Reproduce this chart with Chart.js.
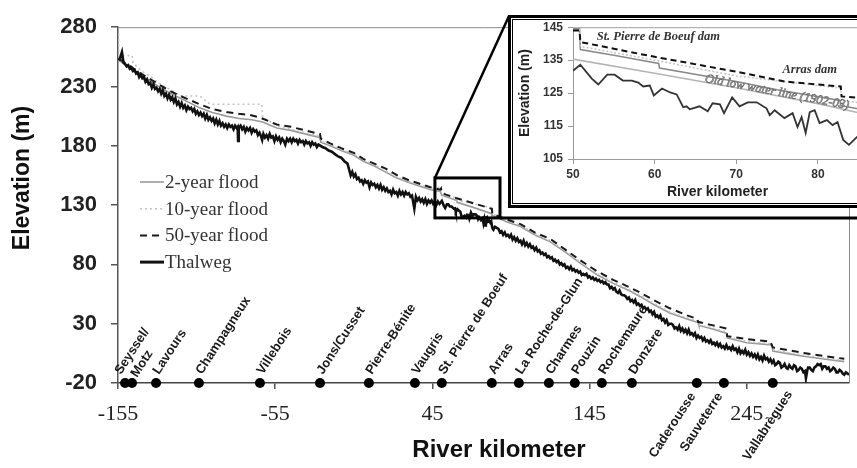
<!DOCTYPE html>
<html><head><meta charset="utf-8">
<script src="https://cdn.jsdelivr.net/npm/chart.js@4.4.1/dist/chart.umd.min.js"></script>
<style>
html,body{margin:0;padding:0;background:#fff;}
body{width:857px;height:468px;overflow:hidden;position:relative;}
#mainWrap{position:absolute;left:0;top:0;width:857px;height:468px;}
#insetWrap{position:absolute;left:508px;top:15px;width:362px;height:193px;}
canvas{display:block;}
</style></head><body>
<div id="mainWrap"><canvas id="main" width="857" height="468"></canvas></div>
<div id="insetWrap"><canvas id="inset" width="362" height="193"></canvas></div>
<script>
// ---------------- DATA: main profile ----------------
const mainXTicks = [-155, -55, 45, 145, 245];
const mainYTicks = [-20, 30, 80, 130, 180, 230, 280];
const xTitle = 'River kilometer';
const yTitle = 'Elevation (m)';

// Thalweg: [river km, elevation m]
const thalweg = [
[-154.5,252],[-153.7,254],[-152.5,259],[-151.5,250],[-150.5,249],[-149.5,247],[-148.5,248],[-147.5,245],[-146.5,246],[-145.5,243],[-144.5,244],[-143.5,241],[-142.5,242],[-141.5,238],[-140.5,240],[-139.5,237],[-138.5,238],[-137.5,234],[-136.5,236],[-135.5,232],[-134.5,233],[-133.5,229],[-132.5,232],[-131.5,228],[-130.5,229],[-129.5,226],[-128.5,228],[-127.5,224],[-126.5,227],[-125.5,222],[-124.5,224],[-123.5,220],[-122.5,223],[-121.5,219],[-120.5,221],[-119.5,217],[-118.5,220],[-117.5,215],[-116.5,217],[-115.5,213],[-114.5,216],[-113.5,212],[-112.5,214],[-111.5,210],[-110.5,213],[-109.5,211],[-108.5,212],[-107.5,209],[-106.5,211],[-105.5,207],[-104.5,209],[-103.5,206],[-102.5,208],[-101.5,205],[-100.5,207],[-99.5,203],[-98.5,206],[-97.5,202],[-96.5,204],[-95.5,201],[-94.5,203],[-93.5,199],[-92.5,202],[-91.5,198],[-90.5,201],[-89.5,197],[-88.5,199],[-87.5,196],[-86.5,198],[-85.5,195],[-84.5,198],[-83.5,196],[-82.5,197],[-81.5,194],[-80.5,197],[-79.5,195],[-78.9,196],[-78.6,184],[-78.2,195],[-77,197],[-76,194],[-75,196],[-74,192],[-73,195],[-72,193],[-71,195],[-70,191],[-69,194],[-68,192],[-67,193],[-66,189],[-65,191],[-64,188],[-63.3,185],[-62.5,190],[-61.5,187],[-60.5,189],[-59.5,186],[-58.5,190],[-57.5,187],[-56.5,188],[-55.5,184],[-54.5,188],[-53.5,185],[-52.5,187],[-51.5,183],[-50.5,186],[-49.5,184],[-48.6,181],[-47.5,186],[-46.5,184],[-45.5,186],[-44.5,183],[-43.5,186],[-42.5,184],[-41.5,185],[-40.5,182],[-39.5,185],[-38.5,183],[-37.5,184],[-36.5,181],[-35.5,184],[-34.5,182],[-33.5,183],[-32.5,180],[-31.5,183],[-30.5,181],[-29.5,182],[-28.5,179],[-27.5,181],
[-25,179],[-23,178],[-21,176],[-19,175],[-17,173],[-15,171],[-13,170],[-11,167],[-9,165],[-8,160],[-7,155],[-6,158],[-5,154],[-4,156],[-3,152],[-2,153],[-1,150],[0,151],[1,148],[2,151],[3,149],[4,150],[5,145],[6,149],[7,147],[8,148],[9,145],[10,147],[11,144],[12,147],[13,143],[14,145],[15,142],[16,144],[17,141],[18,142],[19,139],[20,143],[21,140],[22,141],[23,138],[24,142],[25,139],[26,141],[27,138],[28,141],[29,139],[30,140],[31,137],[32,138],[33.5,127],[34.5,137],[35.5,134],[36.5,136],[37.5,133],[38.5,135],[39.5,132],[40.5,135],[41.5,131],[42.5,134],[43.5,132],[44.5,134],[45.5,131],[46.5,133],[47.5,130],[48.5,133],[49.5,131],
[50,131.8],[51,133.6],[52.3,129.4],[53.1,127.6],[54.2,130.6],[55.1,130.6],[56.1,128.8],[57.2,128.8],[58.6,127],[59.4,127.3],[59.9,124.3],[60.9,126.4],[61.9,125.2],[62.7,124.6],[63.5,120.7],[64.3,120.1],[65.5,121],[66.5,119.5],[67.1,121.9],[68,121.6],[68.5,118.9],[69.5,123.7],[70.4,121],[71.4,122.2],[72.5,122.2],[73.7,120.4],[74.1,118.3],[74.7,119.8],[75.9,117.4],[76.9,118.9],[77.5,114.7],[78,117.7],[78.5,112.9],[79,119.2],[79.6,119.8],[80.2,115.9],[81.1,116.8],[81.8,115.3],[82.4,116.2],[83.1,110.8],[83.8,109.3],[84.8,111.7],
[87,110],[88,107],[89,108],[90,105],[91,107],[92,104],[93,105],[94,103],[95,105],[96,101],[97,103],[98,100],[99,102],[100,99],[101,100],[102,97],[103,100],[104,96],[105,98],[106,95],[107,97],[108,94],[109,95],[110,92],[111,94],[112,91],[113,92],[114,89],[115,90],[116,88],[117,89],[118,86],[119,87],[120,85],[121,86],[122,83],[123,84],[124,82],[125,83],[126,80],[127,81],[128,79],[129,80],[130,77],[131,78],[132,76],[133,78],[134,75],[135,76],[136,74],[137,75],[138,73],[139,74],[140,71],[141,72],[142,71],[143,72],[144,69],[145,70],[146,68],[147,69],[148,67],[149,68],[150,66],[151,67],[152,65],[153,66],[154,64],[155,65],[156,63],[157,63],[158,60],[159,61],[160,59],[161,60],[162,57],[163,56],[164,58],[165,55],[166,54],[167,54],[168,53],[169,51],[170,52],[171,49],[172,50],[173,48],[174,50],[175,46],[176,47],[177,45],[178,46],[179,43],[180,44],[181,42],[182,43],[183,40],[184,41],[185,38],[186,40],[187,36],[188,37],[189,35],[190,37],[191,33],[192,34],[193,31],[194,33],[195,29],[196,30],[197,30],[198,29],[199,26],[200,27],[201,25],[202,28],[203,24],[204,26],[205,23],[206,25],[207,22],[208,25],[209,21],[210,22],[211,20],[212,22],[213,18],[214,20],[215,18],[216,19],[217,16],[218,18],[219,15],[220,16],[221,14],[222,16],[223,13],[224,14],[225,12],[226,14],[227,11],[228,13],[229,10],[230,11],[231,9],[232,12],[233,9],[234,10],[235,8],[236,11],[237,8],[238,9],[239,6],[240,9],[241,5],[242,7],[243,5],[244,8],[245,4],[246,6],[247,3],[248,5],[249,2],[250,4],[251,1],[252,4],[253,0],[254,2],[255,-1],[256,3],[257,0],[258,1],[259,-2],[260,0],[261,-3],[262,-1],[263,-5],[264,-4],[265,-2],[266,-3],[267,-7],[268,-6],[269,-4],[270,-7],[271,-8],[272,-5],[273,-7],[274,-8],[275,-5],[276,-6],[277,-10],[278,-9],[279,-7],[280,-8],[281,-11],[282,-10],[282.6,-16],[283.5,-9],[284,-7],[285,-7],[286,-9],[287,-10],[288,-7],[289,-6],[290,-4],[291,-5],[292,-4],[293,-8],[294,-6],[295,-6],[296,-8],[297,-7],[298,-10],[299,-9],[300,-7],[301,-8],[302,-11],[303,-11],[304,-9],[305,-10],[306,-12],[307,-13],[308,-11],[309,-12],[310,-13]
];

const flood2Km   = [-154.5,-150,-145,-140,-135,-128,-120,-112,-103,-95,-86,-78,-70,-63,-54,-45,-33,-26.5,-26,-20,-13,-5,1,8,15,22,30,37,44,50,50.9,60.6,60.7,70,82.7,82.9,85,92,101,110,120,130,139,150,160,170,177,186,196,207,214,214.5,222,232,232.5,245,261,261.5,270,281,295,307];
const flood2Elev = [252,248,243,239,235,229,223,218,212,208,205,203,202,200,195,193,189,187,183,180,176,172,167,163,158,153,149,146,143,141.5,138.4,133.9,132.3,128.5,122.8,121.3,120.4,116,112,105,99,90,81,71,64,58,53,46,39,34,31,28.5,26,22,18,14,12,7,5,2.5,0,-2];

const flood10Km   = [-154.6,-154.5,-146,-145.5,-140,-135,-128,-120,-115,-103,-96.4,-63.5,-63,-54,-45,-33,-26.5,-26,-20,-13,-5,1,8,15,22,30,37,44,50,50.9,60.6,60.7,82.9,83,85,92,101,110,120,130,139,150,160,170,177,186,196,207,214,214.5,222,232,232.5,245,261,261.5,270,281,295,307];
const flood10Elev = [274,256,256,250,243,239,232,226,222,222,215,215,204,197,194,190,188,184,181,177,173,168,164,159,154,150,147,144,145,141,135.5,134,127.8,122.5,121.5,117,113,106,100,91,82,72,65,59,54,47,40,35,32,29,27,23,19,15,13,8,6,3.5,1,-1];

const flood50Km   = [-154,-151.8,-147,-143,-138,-133,-128,-123,-117,-110,-103,-95,-86,-78,-71,-65,-54,-45,-33,-26.5,-26,-20,-13,-5,1,8,15,22.7,30,37,43.7,50,50.5,51,60,70,80,82.9,83.1,92,101,110,120,130,139,150,160,170,177.5,186,196,207,213.5,214,222,232,232.5,245,260,261.5,270,281,295,307];
const flood50Elev = [253,251,247,243,239,235,231,227,223,219,215,211,208.5,207,206,204,198,196,192,190,186,182,178,174,169,165,161,155,151,148,145,143,144,140,136,132,128,126.7,122.5,118,114,107,101.5,92,83.5,74,67,61,56,49.7,43,37,34,31.6,29,26,19.5,17,15,10,8,5.3,2.5,0.4];

const townNames = ['Seyssel/','Motz','Lavours','Champagneux','Villebois','Jons/Cusset','Pierre-Bénite','Vaugris','St. Pierre de Boeuf','Arras','La Roche-de-Glun','Charmes','Pouzin','Rochemaure','Donzère','Caderousse','Sauveterre','Vallabrègues'];
const townKm = [-150.5,-146.1,-130.8,-103.5,-64.7,-26.5,4.6,33.9,51,82.8,100,119.1,135.6,152.8,171.9,213.2,230.4,261.5];

const zoomBoxKm = [46.6, 88];
const zoomBoxElev = [119.2, 152.9];

// ---------------- DATA: inset ----------------
const insetXTicks = [50, 60, 70, 80];
const insetYTicks = [105, 115, 125, 135, 145];
const insetThalwegKm = [50,50.9,52.3,53.1,54.2,55.1,56.1,57.2,58,58.6,59.4,59.9,60.9,61.9,62.7,63.5,63.9,64.3,65.5,66.5,67.1,68,68.5,69.5,70.4,71.4,72.5,73.7,74.1,74.7,75.9,76.9,77.5,78,78.5,79,79.6,80.2,81.1,81.8,82.4,83.1,83.8,84.8,85.4];
const insetThalwegElev = [131.8,133.6,129.4,127.6,130.6,130.6,128.8,128.8,128.2,127,127.3,124.3,126.4,125.2,124.6,120.7,121,120.1,121,119.5,121.9,121.6,118.9,123.7,121,122.2,122.2,120.4,118.3,119.8,117.4,118.9,114.7,117.7,112.9,119.2,119.8,115.9,116.8,115.3,116.2,110.8,109.3,111.7,113];
const oldLowKm = [50, 60, 70, 80, 85.4];
const oldLowElev = [135.3, 131, 126.6, 121.8, 118.8];
const inset2Km = [50,50.8,50.9,55,60.5,60.6,70,75,82.7,82.8,85.4];
const inset2Elev = [144.5,144.5,138.2,136.5,134,132.6,128.5,126,122.8,121.2,120];
const inset10Km = [50,50.8,50.9,60,70,82.8,82.9,85.4];
const inset10Elev = [145,145,139.2,135,130.2,126.5,122.8,122];
const inset50Km = [50,50.8,50.9,60,70,76,82.8,82.9,85.4];
const inset50Elev = [144,144,140.5,136,131.5,128.5,127,124,123.5];
const insetNotes = ['St. Pierre de Boeuf dam', 'Arras dam', 'Old low water line (1902-03)'];

// ---------------- helpers ----------------
const pts = (xs, ys) => xs.map((x, i) => ({x, y: ys[i]}));
const SANS = "'Liberation Sans', Arial, sans-serif";
const SERIF = "'Liberation Serif', 'Times New Roman', serif";
const INSET_LEFT = 508, INSET_TOP = 15;

const labelsBelow = new Set(['Caderousse', 'Sauveterre', 'Vallabrègues']);
const labelShift = {'Seyssel/': [-7, 0], 'Motz': [2, 3], 'Vallabrègues': [21, -2]};

const mainDecor = {
  id: 'mainDecor',
  beforeDatasetsDraw(chart) {
    const {ctx, chartArea: a} = chart;
    ctx.save();
    ctx.strokeStyle = '#8c8c8c'; ctx.lineWidth = 1;
    ctx.beginPath();
    ctx.moveTo(a.left, a.top + 0.5); ctx.lineTo(a.right + 0.5, a.top + 0.5); ctx.lineTo(a.right + 0.5, a.bottom);
    ctx.stroke();
    ctx.restore();
  },
  afterDraw(chart) {
    const {ctx} = chart;
    const xs = chart.scales.x, ys = chart.scales.y;
    ctx.save();
    // legend
    const legendOrder = [1, 2, 3, 0];
    ctx.font = '19px ' + SERIF;
    ctx.textBaseline = 'middle'; ctx.textAlign = 'left';
    legendOrder.forEach((di, k) => {
      const ds = chart.data.datasets[di];
      const y = 182 + k * 26.7;
      ctx.save();
      ctx.strokeStyle = ds.borderColor; ctx.lineWidth = ds.legendWidth || ds.borderWidth;
      ctx.setLineDash(ds.borderDash || []);
      ctx.beginPath(); ctx.moveTo(140, y); ctx.lineTo(164, y); ctx.stroke();
      ctx.restore();
      ctx.fillStyle = '#333';
      ctx.fillText(ds.label, 165, y + 1);
    });
    // town labels
    const y0 = ys.getPixelForValue(-20);
    ctx.font = 'bold 13px ' + SANS;
    ctx.fillStyle = '#1a1a1a';
    const ang = -57 * Math.PI / 180;
    townNames.forEach((name, i) => {
      const px = xs.getPixelForValue(townKm[i]);
      const sh = labelShift[name] || [0, 0];
      ctx.save();
      if (labelsBelow.has(name)) {
        ctx.translate(px - 1 + sh[0], y0 + 13 + sh[1]); ctx.textAlign = 'right';
      } else {
        ctx.translate(px + 3 + sh[0], y0 - 8 + sh[1]); ctx.textAlign = 'left';
      }
      ctx.rotate(ang);
      ctx.textBaseline = 'alphabetic';
      ctx.fillText(name, 0, 0);
      ctx.restore();
    });
    // zoom box and connectors
    const x1 = xs.getPixelForValue(zoomBoxKm[0]), x2 = xs.getPixelForValue(zoomBoxKm[1]);
    const y1 = ys.getPixelForValue(zoomBoxElev[1]), y2 = ys.getPixelForValue(zoomBoxElev[0]);
    ctx.strokeStyle = '#000'; ctx.lineWidth = 3; ctx.setLineDash([]);
    ctx.strokeRect(x1, y1, x2 - x1, y2 - y1);
    ctx.lineWidth = 2.5;
    ctx.beginPath(); ctx.moveTo(x1, y1); ctx.lineTo(INSET_LEFT + 1, INSET_TOP + 1); ctx.stroke();
    ctx.lineWidth = 3;
    ctx.beginPath(); ctx.moveTo(x2, y2); ctx.lineTo(chart.width, y2); ctx.stroke();
    // axis titles
    ctx.fillStyle = '#111';
    ctx.font = 'bold 24px ' + SANS;
    ctx.textAlign = 'center'; ctx.textBaseline = 'middle';
    ctx.fillText(xTitle, 499, 450);
    ctx.save();
    ctx.translate(23, 178); ctx.rotate(-Math.PI / 2);
    ctx.font = 'bold 23px ' + SANS;
    ctx.fillText(yTitle, 0, 0);
    ctx.restore();
    ctx.restore();
  }
};

const lineDs = (label, data, color, width, dash, order) => ({
  type: 'line', label, data, borderColor: color, borderWidth: width,
  borderDash: dash, pointRadius: 0, tension: 0, fill: false, order
});

new Chart(document.getElementById('main'), {
  type: 'line',
  data: {
    datasets: [
      Object.assign(lineDs('Thalweg', thalweg.map(p => ({x: p[0], y: p[1]})), '#111', 2.6, [], 1), {legendWidth: 3}),
      lineDs('2-year flood', pts(flood2Km, flood2Elev), '#9a9a9a', 1.6, [], 4),
      lineDs('10-year flood', pts(flood10Km, flood10Elev), '#c4c4c4', 1.6, [2, 3], 3),
      lineDs('50-year flood', pts(flood50Km, flood50Elev), '#1a1a1a', 2, [7, 5], 2),
      {type: 'scatter', label: 'Dams', data: townKm.map(k => ({x: k, y: -20})), pointRadius: 5,
       pointBackgroundColor: '#000', pointBorderColor: '#000', pointBorderWidth: 0, clip: false, order: 0}
    ]
  },
  options: {
    responsive: false, animation: false, events: [],
    layout: {padding: {left: 0, top: 18, right: 8, bottom: 0}},
    plugins: {legend: {display: false}, tooltip: {enabled: false}},
    scales: {
      x: {
        type: 'linear', min: -155, max: 310,
        afterBuildTicks: s => { s.ticks = mainXTicks.map(v => ({value: v})); },
        afterFit: s => { s.height = 85; },
        grid: {drawOnChartArea: false, drawTicks: true, tickLength: 6, color: '#555', lineWidth: 1.5},
        border: {display: true, color: '#444', width: 1.5},
        ticks: {font: {family: SERIF, size: 22}, color: '#222', padding: 12, maxRotation: 0}
      },
      y: {
        type: 'linear', min: -20, max: 280,
        afterBuildTicks: s => { s.ticks = mainYTicks.map(v => ({value: v})); },
        afterFit: s => { s.width = 118; },
        grid: {drawOnChartArea: false, drawTicks: true, tickLength: 7, color: '#555', lineWidth: 1.5},
        border: {display: true, color: '#555', width: 1.5},
        ticks: {font: {family: SANS, size: 22, weight: 'bold'}, color: '#222', padding: 14}
      }
    }
  },
  plugins: [mainDecor]
});

// ---------------- inset ----------------
const insetDecor = {
  id: 'insetDecor',
  beforeDraw(chart) {
    const {ctx, width: W, height: H} = chart;
    ctx.save(); ctx.fillStyle = '#fff'; ctx.fillRect(0, 0, W, H); ctx.restore();
  },
  beforeDatasetsDraw(chart) {
    const {ctx, chartArea: a} = chart;
    ctx.save();
    ctx.strokeStyle = '#a0a0a0'; ctx.lineWidth = 1;
    ctx.beginPath(); ctx.moveTo(a.left, a.top + 0.5); ctx.lineTo(a.right, a.top + 0.5); ctx.stroke();
    ctx.restore();
  },
  afterDraw(chart) {
    const {ctx, width: W, height: H} = chart;
    const xs = chart.scales.x, ys = chart.scales.y;
    ctx.save();
    ctx.fillStyle = '#333';
    ctx.font = 'italic bold 12.5px ' + SERIF;
    ctx.textBaseline = 'middle'; ctx.textAlign = 'left';
    ctx.fillText(insetNotes[0], xs.getPixelForValue(52.9), ys.getPixelForValue(142));
    ctx.textAlign = 'center';
    ctx.fillText(insetNotes[1], xs.getPixelForValue(79), ys.getPixelForValue(132.1));
    const ax = xs.getPixelForValue(oldLowKm[0]), ay = ys.getPixelForValue(oldLowElev[0]);
    const bx = xs.getPixelForValue(oldLowKm[oldLowKm.length - 1]), by = ys.getPixelForValue(oldLowElev[oldLowElev.length - 1]);
    const ang = Math.atan2(by - ay, bx - ax);
    ctx.save();
    ctx.translate(xs.getPixelForValue(66.1), ys.getPixelForValue(128.4));
    ctx.rotate(ang);
    ctx.font = 'italic 12.5px ' + SERIF;
    ctx.textAlign = 'left'; ctx.textBaseline = 'alphabetic';
    ctx.lineWidth = 0.6; ctx.strokeStyle = '#6a6a6a';
    ctx.fillStyle = '#b0b0b0';
    ctx.fillText(insetNotes[2], 0, 0);
    ctx.strokeText(insetNotes[2], 0, 0);
    ctx.restore();
    ctx.strokeStyle = '#000';
    ctx.lineWidth = 3; ctx.strokeRect(1.5, 1.5, W - 3, H - 3);
    ctx.lineWidth = 1; ctx.strokeRect(4.5, 4.5, W - 9, H - 9);
    ctx.restore();
  }
};

new Chart(document.getElementById('inset'), {
  type: 'line',
  data: {
    datasets: [
      lineDs('Thalweg', pts(insetThalwegKm, insetThalwegElev), '#333', 1.8, [], 1),
      lineDs('Old low water line', pts(oldLowKm, oldLowElev), '#b4b4b4', 1.6, [], 5),
      lineDs('2-year flood', pts(inset2Km, inset2Elev), '#8a8a8a', 1.6, [], 4),
      lineDs('10-year flood', pts(inset10Km, inset10Elev), '#c4c4c4', 1.5, [2, 2], 3),
      lineDs('50-year flood', pts(inset50Km, inset50Elev), '#111', 2, [6, 4], 2)
    ]
  },
  options: {
    responsive: false, animation: false, events: [],
    layout: {padding: {left: 0, top: 11, right: 8, bottom: 0}},
    plugins: {legend: {display: false}, tooltip: {enabled: false}},
    scales: {
      x: {
        type: 'linear', min: 50, max: 85.4,
        afterBuildTicks: s => { s.ticks = insetXTicks.map(v => ({value: v})); },
        afterFit: s => { s.height = 49; },
        grid: {drawOnChartArea: false, drawTicks: true, tickLength: 5, color: '#999'},
        border: {display: true, color: '#999', width: 1},
        ticks: {font: {family: SANS, size: 12, weight: 'bold'}, color: '#333', padding: 3, maxRotation: 0},
        title: {display: true, text: xTitle, font: {family: SANS, size: 14, weight: 'bold'}, color: '#222', padding: {top: 0, bottom: 7}}
      },
      y: {
        type: 'linear', min: 105, max: 145,
        afterBuildTicks: s => { s.ticks = insetYTicks.map(v => ({value: v})); },
        afterFit: s => { s.width = 65; },
        grid: {drawOnChartArea: false, drawTicks: true, tickLength: 5, color: '#999'},
        border: {display: true, color: '#999', width: 1},
        ticks: {font: {family: SANS, size: 12, weight: 'bold'}, color: '#333', padding: 5},
        title: {display: true, text: yTitle, font: {family: SANS, size: 14, weight: 'bold'}, color: '#222', padding: {top: 9, bottom: 0}}
      }
    }
  },
  plugins: [insetDecor]
});
</script>
</body></html>
